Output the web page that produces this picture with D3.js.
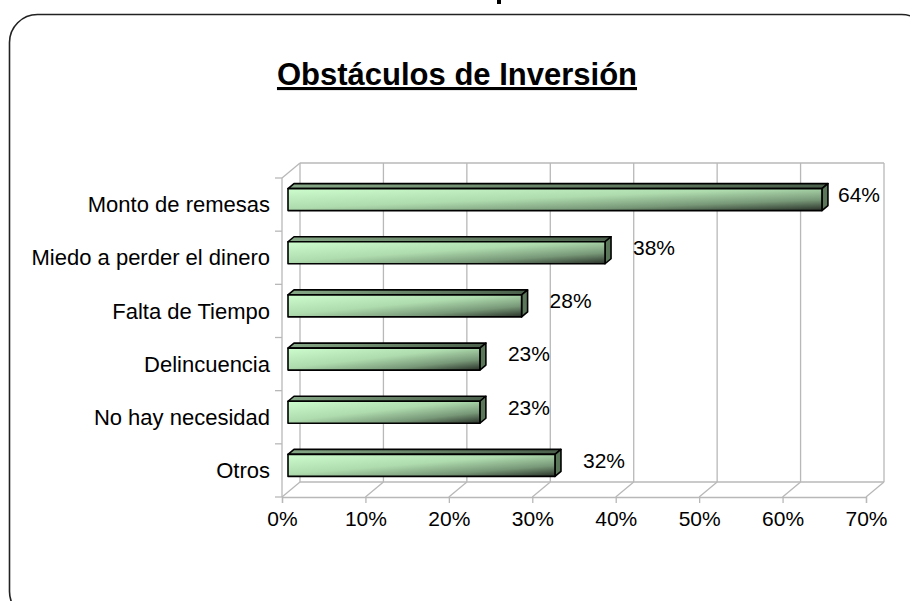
<!DOCTYPE html>
<meta charset="utf-8">
<style>
body { margin: 0; background: #fff; }
svg { display: block; font-family: "Liberation Sans", Arial, sans-serif; }
.grid line { stroke: #b8b8b8; stroke-width: 1.3px; }
.face { stroke: #000; stroke-width: 1.6px; stroke-linejoin: round; }
</style>
<svg width="910" height="601"></svg>
<script src="https://d3js.org/d3.v7.min.js"></script>
<script>

var categories = ["Monto de remesas", "Miedo a perder el dinero", "Falta de Tiempo",
                  "Delincuencia", "No hay necesidad", "Otros"];
var values = [0.64, 0.38, 0.28, 0.23, 0.23, 0.32];
var tickValues = [0, 0.1, 0.2, 0.3, 0.4, 0.5, 0.6, 0.7];
var title = "Obstáculos de Inversión";

var svg = d3.select("svg");

// outer rounded frame (partly cut off by the page edge)
svg.append("rect")
    .attr("x", 9.5).attr("y", 14.5)
    .attr("width", 920).attr("height", 605)
    .attr("rx", 28).attr("ry", 28)
    .attr("fill", "none")
    .attr("stroke", "#222")
    .attr("stroke-width", 1.6);

// bit of a glyph from something above the visible area
svg.append("rect")
    .attr("x", 497).attr("y", 0)
    .attr("width", 4).attr("height", 4)
    .attr("fill", "#000");

svg.append("text")
    .attr("x", 457).attr("y", 85)
    .attr("text-anchor", "middle")
    .attr("font-size", "31px")
    .attr("font-weight", "bold")
    .attr("text-decoration", "underline")
    .text(title);

// 3d box geometry
var DX = 18, DY = 15;
var x = d3.scaleLinear().domain([0, 0.7]).range([282, 866]);
var y = d3.scaleBand().domain(categories).range([178, 497]);
var top0 = 178, floor0 = 497;
var z0 = 1 / 3, z1 = 2 / 3;
var thick = 22;

function P(v, yy, z) { return [x(v) + z * DX, yy - z * DY]; }

var grid = svg.append("g").attr("class", "grid");

// back wall verticals
grid.selectAll(".back").data(tickValues).enter().append("line")
    .attr("x1", function(d) { return P(d, floor0, 1)[0]; })
    .attr("y1", function(d) { return P(d, floor0, 1)[1]; })
    .attr("x2", function(d) { return P(d, top0, 1)[0]; })
    .attr("y2", function(d) { return P(d, top0, 1)[1]; });

// floor diagonals
grid.selectAll(".floor").data(tickValues).enter().append("line")
    .attr("x1", function(d) { return P(d, floor0, 0)[0]; })
    .attr("y1", function(d) { return P(d, floor0, 0)[1]; })
    .attr("x2", function(d) { return P(d, floor0, 1)[0]; })
    .attr("y2", function(d) { return P(d, floor0, 1)[1]; });

// edges of walls and floor
var edges = [
    [P(0, top0, 1), P(0.7, top0, 1)],
    [P(0, floor0, 1), P(0.7, floor0, 1)],
    [P(0, top0, 0), P(0, floor0, 0)],
    [P(0, top0, 0), P(0, top0, 1)]
];
grid.selectAll(".edge").data(edges).enter().append("line")
    .attr("x1", function(d) { return d[0][0]; })
    .attr("y1", function(d) { return d[0][1]; })
    .attr("x2", function(d) { return d[1][0]; })
    .attr("y2", function(d) { return d[1][1]; });

// left ticks at band boundaries
var bounds = categories.map(function(c) { return y(c); }).concat([floor0]);
grid.selectAll(".ltick").data(bounds).enter().append("line")
    .attr("x1", x(0) - 7).attr("x2", x(0))
    .attr("y1", function(d) { return d; })
    .attr("y2", function(d) { return d; });

// bottom axis
var axis = svg.append("g")
    .attr("transform", "translate(0," + floor0 + ")")
    .call(d3.axisBottom(x).tickValues(tickValues).tickSize(6).tickPadding(8)
        .tickFormat(d3.format(".0%")));
axis.select(".domain").attr("stroke", "#b8b8b8").attr("stroke-width", 1.3);
axis.selectAll(".tick line").attr("stroke", "#b8b8b8").attr("stroke-width", 1.3);
axis.selectAll(".tick text")
    .attr("font-family", "Liberation Sans, Arial, sans-serif")
    .attr("font-size", "21px").attr("fill", "#000");

// category labels
svg.append("g").selectAll("text").data(categories).enter().append("text")
    .attr("x", 270)
    .attr("y", function(d) { return y(d) + y.bandwidth() / 2; })
    .attr("dy", "0.35em")
    .attr("text-anchor", "end")
    .attr("font-size", "22px")
    .text(function(d) { return d; });

// gradients
var defs = svg.append("defs");
var gFront = defs.append("linearGradient").attr("id", "gFront")
    .attr("x1", 0).attr("y1", 0).attr("x2", 1).attr("y2", 1);
[[0, "#cdfccd"], [0.45, "#afdcaf"], [0.75, "#789878"], [1, "#283028"]].forEach(function(s) {
    gFront.append("stop").attr("offset", s[0]).attr("stop-color", s[1]);
});
var gTop = defs.append("linearGradient").attr("id", "gTop")
    .attr("x1", 0).attr("y1", 0).attr("x2", 1).attr("y2", 0);
[[0, "#86a886"], [1, "#4b604b"]].forEach(function(s) {
    gTop.append("stop").attr("offset", s[0]).attr("stop-color", s[1]);
});

var rows = categories.map(function(c, i) { return { cat: c, v: values[i] }; });

function poly(pts) { return "M" + pts.map(function(p) { return p.join(","); }).join("L") + "Z"; }

var bar = svg.append("g").selectAll("g").data(rows).enter().append("g");

bar.append("path").attr("class", "face")
    .attr("fill", "url(#gTop)")
    .attr("d", function(d) {
        var t = y(d.cat) + y.bandwidth() / 2 - thick / 2;
        return poly([P(0, t, z0), P(d.v, t, z0), P(d.v, t, z1), P(0, t, z1)]);
    });

bar.append("path").attr("class", "face")
    .attr("fill", "#5a775a")
    .attr("d", function(d) {
        var t = y(d.cat) + y.bandwidth() / 2 - thick / 2;
        return poly([P(d.v, t, z0), P(d.v, t, z1), P(d.v, t + thick, z1), P(d.v, t + thick, z0)]);
    });

bar.append("path").attr("class", "face")
    .attr("fill", "url(#gFront)")
    .attr("d", function(d) {
        var t = y(d.cat) + y.bandwidth() / 2 - thick / 2;
        return poly([P(0, t, z0), P(d.v, t, z0), P(d.v, t + thick, z0), P(0, t + thick, z0)]);
    });

// value labels
bar.append("text")
    .attr("x", function(d) { return Math.min(x(d.v) + 34, 838); })
    .attr("y", function(d) { return y(d.cat) + y.bandwidth() / 2 - 10; })
    .attr("dy", "0.35em")
    .attr("font-size", "21px")
    .text(function(d) { return d3.format(".0%")(d.v); });

</script>
